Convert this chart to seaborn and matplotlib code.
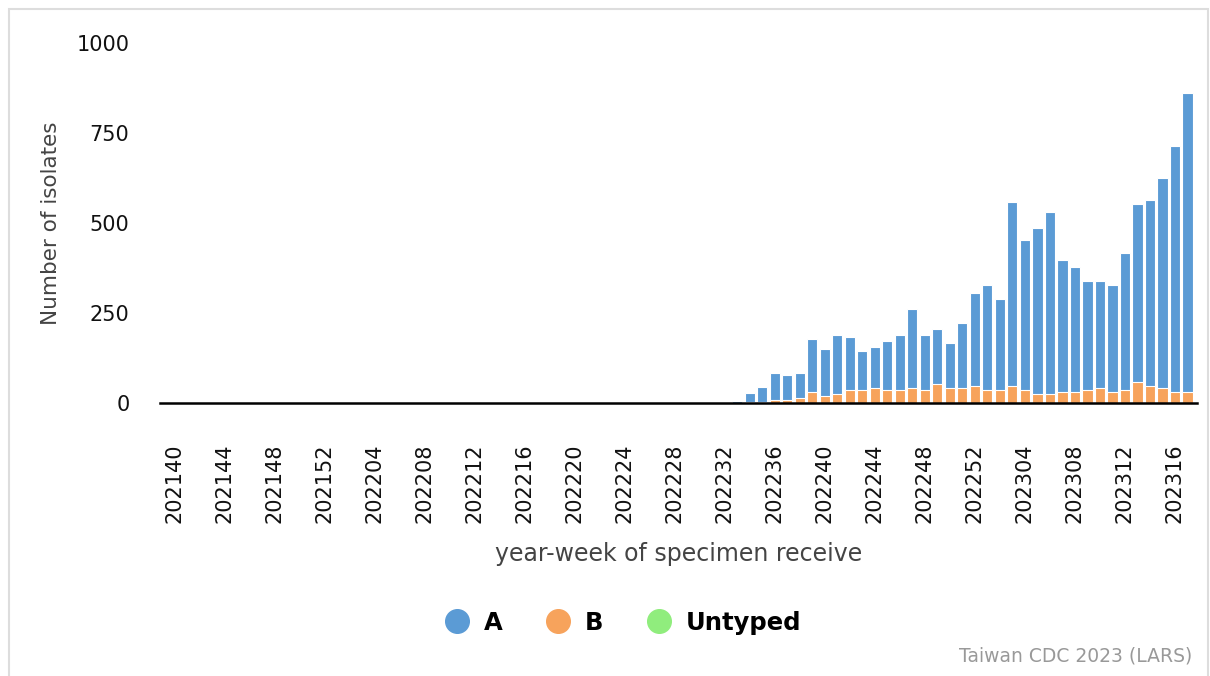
import matplotlib
matplotlib.use("Agg")
import matplotlib.pyplot as plt
from matplotlib.lines import Line2D
from matplotlib.patches import Rectangle
import numpy as np
import seaborn as sns

# year-week categories: 202140 .. 202317
weeks = ([f"2021{w:02d}" for w in range(40, 53)]
         + [f"2022{w:02d}" for w in range(1, 53)]
         + [f"2023{w:02d}" for w in range(1, 18)])

# type A isolates per week
type_a = [0] * 45 + [
    6, 24, 41, 76, 70, 70, 148, 130, 164, 147,
    107, 114, 135, 153, 220, 153, 153, 125, 180, 258,
    292, 253, 510, 416, 461, 506, 366, 348, 303, 297,
    298, 381, 494, 516, 583, 684, 829,
]
# type B isolates per week
type_b = [0] * 14 + [4, 0, 4] + [0] * 7 + [4] + [0] * 20 + [
    0, 3, 3, 8, 8, 14, 30, 20, 26, 37,
    37, 42, 37, 37, 42, 37, 53, 42, 43, 48,
    37, 37, 48, 37, 25, 25, 31, 31, 37, 43,
    31, 37, 59, 48, 43, 31, 31,
]
# untyped isolates per week
untyped = [0] * 82

series_names = ["A", "B", "Untyped"]
colors = ["#5B9BD5", "#F7A35C", "#90ED7D"]
y_ticks = [0, 250, 500, 750, 1000]

sns.set_style("white")
plt.rcParams["font.family"] = ["DejaVu Sans"]

a = np.array(type_a)
b = np.array(type_b)
u = np.array(untyped)

fig = plt.figure(figsize=(12.1, 6.76), dpi=100)
ax = fig.add_axes([160 / 1210, 1 - 403 / 676, 1037 / 1210, 360 / 676])

# stacked bars: draw cumulative totals back to front
for heights, col in [(a + b + u, colors[0]), (b + u, colors[1]), (u, colors[2])]:
    sns.barplot(x=weeks, y=heights, color=col, width=0.8, edgecolor="white",
                linewidth=0.8, ax=ax, saturation=1)

ax.set_xlim(-1.2, 81.76)
ax.set_ylim(0, 1000)
ax.set_yticks(y_ticks)
ax.set_yticklabels([str(t) for t in y_ticks], fontsize=15, color="#111111")
tick_pos = list(range(0, len(weeks), 4))
ax.set_xticks(tick_pos)
ax.set_xticklabels([weeks[i] for i in tick_pos], rotation=90, fontsize=15,
                   color="#111111")
ax.tick_params(axis="x", length=0, pad=29)
ax.tick_params(axis="y", length=0, pad=22)

for side in ["left", "right", "top"]:
    ax.spines[side].set_visible(False)
ax.spines["bottom"].set_color("black")
ax.spines["bottom"].set_linewidth(1.8)
ax.spines["bottom"].set_zorder(5)

ax.set_ylabel("Number of isolates", fontsize=15.5, color="#444444")
ax.yaxis.set_label_coords(-0.095, 0.5)
ax.set_xlabel("year-week of specimen receive", fontsize=17, color="#444444")
ax.xaxis.set_label_coords(0.5, -0.385)

handles = [Line2D([], [], marker="o", linestyle="none", markersize=17,
                  markerfacecolor=c, markeredgecolor=c) for c in colors]
fig.legend(handles, series_names, loc="center", ncol=3,
           bbox_to_anchor=(622 / 1210, 1 - 623 / 676), frameon=False,
           prop={"weight": "bold", "size": 17.5}, labelcolor="black",
           handletextpad=0.5, columnspacing=1.7, handlelength=1.2)

fig.text(1192 / 1210, 1 - 656 / 676, "Taiwan CDC 2023 (LARS)", ha="right",
         va="center", fontsize=13.5, color="#999999")

fig.patches.append(Rectangle((8.5 / 1210, -0.05), 1199 / 1210, 1.05 - 8.5 / 676,
                             transform=fig.transFigure, fill=False,
                             edgecolor="#dddddd", linewidth=1.5))

fig.savefig("out.png", dpi=100)
